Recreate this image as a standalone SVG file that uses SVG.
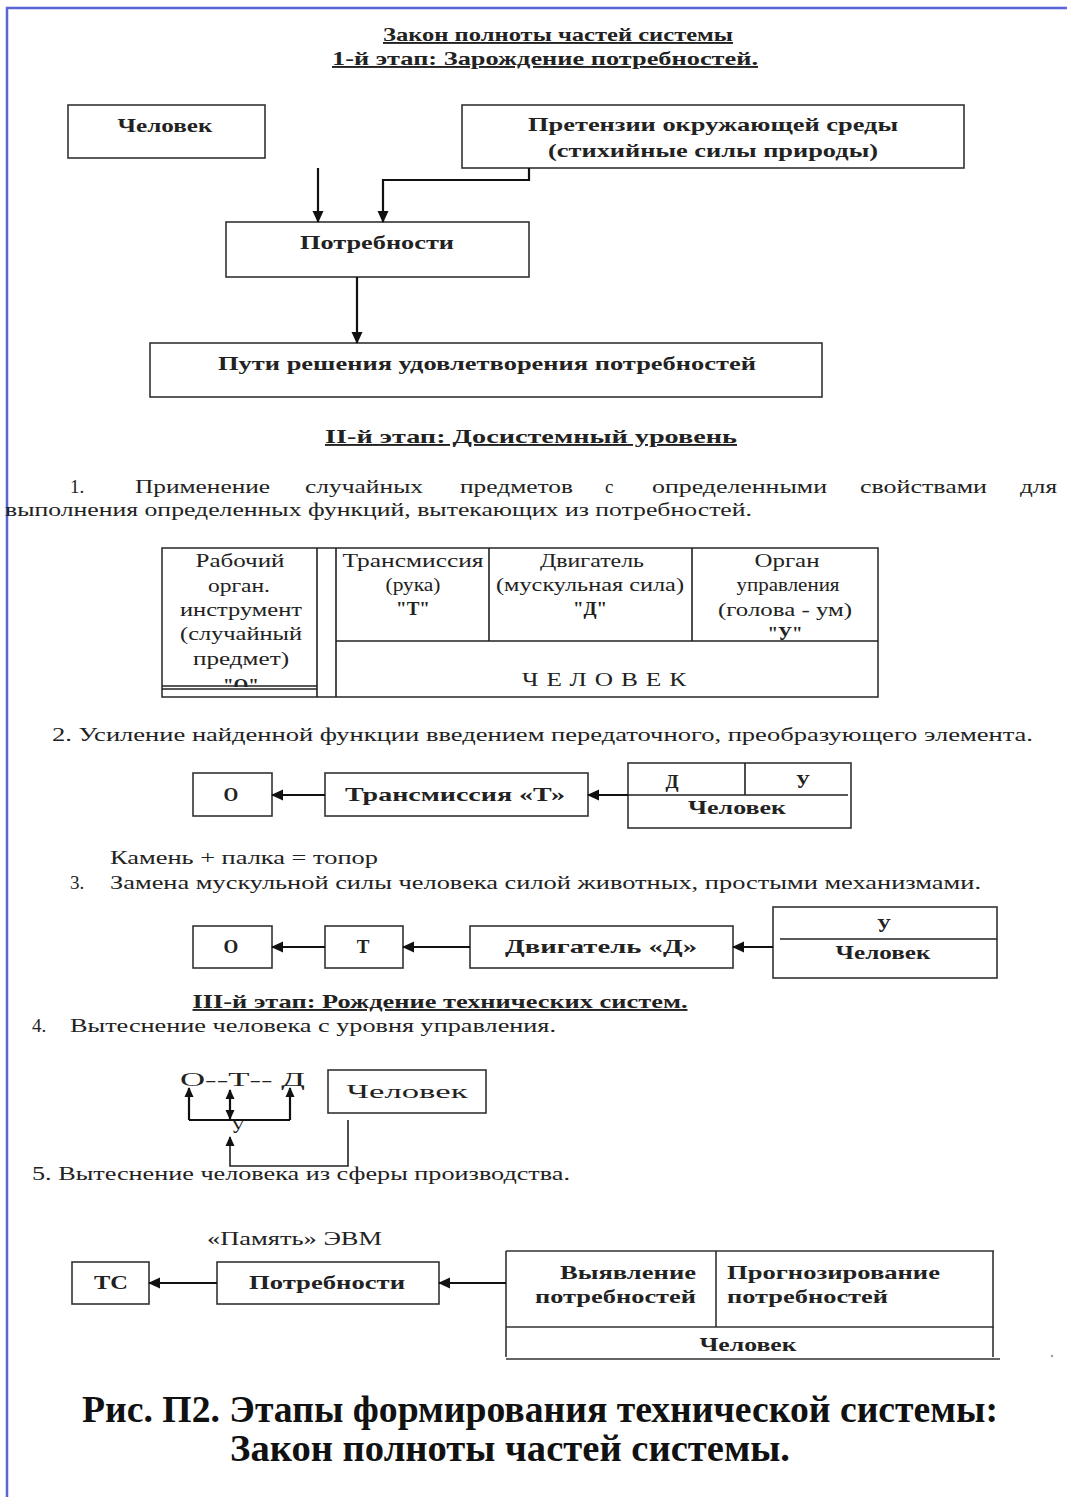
<svg xmlns="http://www.w3.org/2000/svg" width="1067" height="1497" viewBox="0 0 1067 1497">
<style>
.t{font-family:"Liberation Serif",serif;font-size:19px;fill:#222}
.b{font-weight:bold}
.m{text-anchor:middle}
.e{text-anchor:end}
.u{text-decoration:underline}
.box{fill:none;stroke:#333;stroke-width:1.6}
.ln{fill:none;stroke:#222;stroke-width:1.6}
.ar{fill:none;stroke:#111;stroke-width:2.2}
.cap{font-family:"Liberation Serif",serif;font-size:37px;font-weight:bold;fill:#111}
</style>
<defs>
<marker id="ah" markerUnits="userSpaceOnUse" markerWidth="12" markerHeight="12" refX="11" refY="6" orient="auto-start-reverse">
<path d="M0,0.5 L12,6 L0,11.5 z" fill="#111"/>
</marker>
<marker id="as" markerUnits="userSpaceOnUse" markerWidth="10" markerHeight="10" refX="9" refY="5" orient="auto-start-reverse">
<path d="M0,0.5 L10,5 L0,9.5 z" fill="#111"/>
</marker>
</defs>
<rect width="1067" height="1497" fill="#fff"/>
<path d="M7,1497 V8 H1067" fill="none" stroke="#5a66d6" stroke-width="2.5"/>

<g id="titles">
<text class="t b m u" x="558" y="41" textLength="350" lengthAdjust="spacingAndGlyphs">Закон полноты частей системы</text>
<text class="t b m u" x="545" y="65" textLength="426" lengthAdjust="spacingAndGlyphs">1-й этап: Зарождение потребностей.</text>
<text class="t b m u" x="531" y="443" textLength="412" lengthAdjust="spacingAndGlyphs">II-й этап: Досистемный уровень</text>
<text class="t b m u" x="440" y="1008" textLength="495" lengthAdjust="spacingAndGlyphs">III-й этап: Рождение технических систем.</text>
</g>

<g id="n-chelovek1">
<rect class="box" x="68" y="105" width="197" height="53"/>
<text class="t b m" x="165" y="132" textLength="95" lengthAdjust="spacingAndGlyphs">Человек</text>
</g>
<g id="n-pretenzii">
<rect class="box" x="462" y="105" width="502" height="63"/>
<text class="t b m" x="713" y="131" textLength="370" lengthAdjust="spacingAndGlyphs">Претензии окружающей среды</text>
<text class="t b m" x="713" y="157" textLength="330" lengthAdjust="spacingAndGlyphs">(стихийные силы природы)</text>
</g>
<g id="n-potrebnosti1">
<rect class="box" x="226" y="222" width="303" height="55"/>
<text class="t b m" x="377" y="249" textLength="154" lengthAdjust="spacingAndGlyphs">Потребности</text>
</g>
<g id="n-puti">
<rect class="box" x="150" y="343" width="672" height="54"/>
<text class="t b m" x="487" y="370" textLength="538" lengthAdjust="spacingAndGlyphs">Пути решения удовлетворения потребностей</text>
</g>

<g id="para1">
<text class="t">
<tspan x="70" y="493">1.</tspan>
<tspan x="135" y="493" textLength="135" lengthAdjust="spacingAndGlyphs">Применение</tspan>
<tspan x="305" y="493" textLength="118" lengthAdjust="spacingAndGlyphs">случайных</tspan>
<tspan x="460" y="493" textLength="113" lengthAdjust="spacingAndGlyphs">предметов</tspan>
<tspan x="605" y="493">с</tspan>
<tspan x="652" y="493" textLength="175" lengthAdjust="spacingAndGlyphs">определенными</tspan>
<tspan x="860" y="493" textLength="127" lengthAdjust="spacingAndGlyphs">свойствами</tspan>
<tspan x="1020" y="493" textLength="37" lengthAdjust="spacingAndGlyphs">для</tspan>
</text>
<text class="t" x="5" y="516" textLength="747" lengthAdjust="spacingAndGlyphs">выполнения определенных функций, вытекающих из потребностей.</text>
</g>

<g id="n-table">
<rect class="box" x="162" y="548" width="716" height="149"/>
<path class="ln" d="M317,548 V697 M336,548 V697 M489,548 V641 M692,548 V641 M336,641 H878"/>
<text class="t m" x="240" y="567" textLength="89" lengthAdjust="spacingAndGlyphs">Рабочий</text>
<text class="t m" x="239" y="592" textLength="62" lengthAdjust="spacingAndGlyphs">орган.</text>
<text class="t m" x="241" y="616" textLength="122" lengthAdjust="spacingAndGlyphs">инструмент</text>
<text class="t m" x="241" y="640" textLength="122" lengthAdjust="spacingAndGlyphs">(случайный</text>
<text class="t m" x="241" y="665" textLength="96" lengthAdjust="spacingAndGlyphs">предмет)</text>
<text class="t b m" x="241" y="692">"О"</text>
<rect x="163" y="687" width="153" height="9" fill="#fff"/>
<path class="ln" d="M162,686 H317 M162,689 H317"/>
<text class="t m" x="413" y="567" textLength="141" lengthAdjust="spacingAndGlyphs">Трансмиссия</text>
<text class="t m" x="413" y="591" textLength="55" lengthAdjust="spacingAndGlyphs">(рука)</text>
<text class="t b m" x="413" y="615">"Т"</text>
<text class="t m" x="592" y="567" textLength="104" lengthAdjust="spacingAndGlyphs">Двигатель</text>
<text class="t m" x="590" y="591" textLength="188" lengthAdjust="spacingAndGlyphs">(мускульная сила)</text>
<text class="t b m" x="590" y="615">"Д"</text>
<text class="t m" x="787" y="567" textLength="65" lengthAdjust="spacingAndGlyphs">Орган</text>
<text class="t m" x="788" y="591" textLength="103" lengthAdjust="spacingAndGlyphs">управления</text>
<text class="t m" x="785" y="616" textLength="134" lengthAdjust="spacingAndGlyphs">(голова - ум)</text>
<text class="t b m" x="785" y="640">"У"</text>
<text class="t m" x="608" y="686" letter-spacing="6" textLength="172" lengthAdjust="spacingAndGlyphs">ЧЕЛОВЕК</text>
</g>

<g id="para2">
<text class="t" x="52" y="741" textLength="981" lengthAdjust="spacingAndGlyphs">2. Усиление найденной функции введением передаточного, преобразующего элемента.</text>
</g>

<g id="n-O2">
<rect class="box" x="193" y="773" width="79" height="43"/>
<text class="t b m" x="231" y="801">О</text>
</g>
<g id="n-trans2">
<rect class="box" x="325" y="773" width="263" height="43"/>
<text class="t b m" x="455" y="801" textLength="220" lengthAdjust="spacingAndGlyphs">Трансмиссия  «Т»</text>
</g>
<g id="n-chel2">
<rect class="box" x="628" y="763" width="223" height="65"/>
<path class="ln" d="M628,795 H848 M745,763 V795"/>
<text class="t b m" x="672" y="788">Д</text>
<text class="t b m" x="803" y="788">У</text>
<text class="t b m" x="737" y="814" textLength="98" lengthAdjust="spacingAndGlyphs">Человек</text>
</g>

<g id="para3">
<text class="t" x="110" y="864" textLength="268" lengthAdjust="spacingAndGlyphs">Камень + палка = топор</text>
<text class="t" x="70" y="889">3.</text>
<text class="t" x="110" y="889" textLength="871" lengthAdjust="spacingAndGlyphs">Замена мускульной силы человека силой животных, простыми механизмами.</text>
</g>

<g id="n-O3">
<rect class="box" x="193" y="926" width="79" height="42"/>
<text class="t b m" x="231" y="953">О</text>
</g>
<g id="n-T3">
<rect class="box" x="325" y="926" width="78" height="42"/>
<text class="t b m" x="363" y="953">Т</text>
</g>
<g id="n-dvig3">
<rect class="box" x="470" y="926" width="263" height="42"/>
<text class="t b m" x="601" y="953" textLength="192" lengthAdjust="spacingAndGlyphs">Двигатель   «Д»</text>
</g>
<g id="n-chel3">
<rect class="box" x="773" y="907" width="224" height="71"/>
<path class="ln" d="M780,939 H997"/>
<text class="t b m" x="884" y="932">У</text>
<text class="t b m" x="883" y="959" textLength="95" lengthAdjust="spacingAndGlyphs">Человек</text>
</g>

<g id="para4">
<text class="t" x="32" y="1032">4.</text>
<text class="t" x="70" y="1032" textLength="486" lengthAdjust="spacingAndGlyphs">Вытеснение человека с уровня управления.</text>
</g>

<g id="n-otd">
<text class="t" x="180" y="1086" font-size="22" textLength="125" lengthAdjust="spacingAndGlyphs">О--Т-- Д</text>
<text class="t" x="231" y="1133" font-size="20">У</text>
</g>
<g id="n-chel4">
<rect class="box" x="328" y="1070" width="158" height="43"/>
<text class="t m" x="407" y="1098" font-size="21" textLength="121" lengthAdjust="spacingAndGlyphs">Человек</text>
</g>

<g id="para5">
<text class="t" x="32" y="1180" textLength="538" lengthAdjust="spacingAndGlyphs">5. Вытеснение человека из сферы производства.</text>
<text class="t" x="207" y="1245" textLength="175" lengthAdjust="spacingAndGlyphs">«Память» ЭВМ</text>
</g>

<g id="n-TC">
<rect class="box" x="72" y="1262" width="77" height="42"/>
<text class="t b m" x="111" y="1289" textLength="34" lengthAdjust="spacingAndGlyphs">ТС</text>
</g>
<g id="n-potr5">
<rect class="box" x="217" y="1262" width="222" height="42"/>
<text class="t b m" x="327" y="1289" textLength="156" lengthAdjust="spacingAndGlyphs">Потребности</text>
</g>
<g id="n-chel5">
<path class="box" d="M506,1251 H994 M506,1251 V1357 M716,1251 V1327 M506,1327 H994 M993,1251 V1357 M506,1359 H1000"/>
<text class="t b e" x="696" y="1279" textLength="136" lengthAdjust="spacingAndGlyphs">Выявление</text>
<text class="t b e" x="696" y="1303" textLength="161" lengthAdjust="spacingAndGlyphs">потребностей</text>
<text class="t b" x="727" y="1279" textLength="213" lengthAdjust="spacingAndGlyphs">Прогнозирование</text>
<text class="t b" x="727" y="1303" textLength="161" lengthAdjust="spacingAndGlyphs">потребностей</text>
<text class="t b m" x="748" y="1351" textLength="97" lengthAdjust="spacingAndGlyphs">Человек</text>
</g>
<circle cx="1052" cy="1356" r="1.2" fill="#999"/>

<g id="connectors">
<path class="ar" d="M318,168 V222" marker-end="url(#ah)"/>
<path class="ar" d="M529,168 V180 H383 V222" marker-end="url(#ah)"/>
<path class="ar" d="M357,277 V343" marker-end="url(#ah)"/>
<path class="ar" d="M628,795 H588" marker-end="url(#ah)"/>
<path class="ar" d="M325,795 H272" marker-end="url(#ah)"/>
<path class="ar" d="M773,947 H733" marker-end="url(#ah)"/>
<path class="ar" d="M470,947 H403" marker-end="url(#ah)"/>
<path class="ar" d="M325,947 H272" marker-end="url(#ah)"/>
<path class="ar" d="M189,1120 V1088" marker-end="url(#as)"/>
<path class="ar" d="M189,1120 H290"/>
<path class="ar" d="M290,1120 V1088" marker-end="url(#as)"/>
<path class="ar" d="M230,1090 V1119" marker-start="url(#as)" marker-end="url(#as)"/>
<path class="ln" d="M348,1120 V1166 H230 V1137" marker-end="url(#as)"/>
<path class="ar" d="M506,1283 H439" marker-end="url(#ah)"/>
<path class="ar" d="M217,1283 H149" marker-end="url(#ah)"/>
</g>

<g id="caption">
<text class="cap m" x="540" y="1422" textLength="916" lengthAdjust="spacingAndGlyphs">Рис. П2. Этапы формирования технической системы:</text>
<text class="cap m" x="510" y="1461" textLength="560" lengthAdjust="spacingAndGlyphs">Закон  полноты частей системы.</text>
</g>
</svg>
